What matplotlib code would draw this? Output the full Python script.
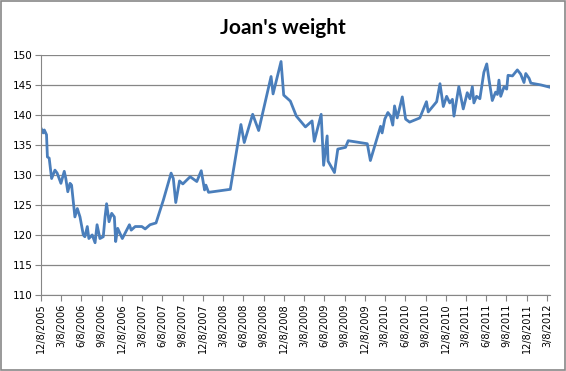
import pandas as pd
import matplotlib.pyplot as plt
from matplotlib.patches import Rectangle

# weigh-in dates and weights
dates = [
    "2005-12-08", "2005-12-18", "2005-12-23", "2006-01-02", "2006-01-06", "2006-01-14",
    "2006-01-25", "2006-02-09", "2006-02-19", "2006-03-08", "2006-03-23", "2006-03-30",
    "2006-04-08", "2006-04-18", "2006-04-25", "2006-05-10", "2006-05-21", "2006-06-02",
    "2006-06-17", "2006-06-24", "2006-07-05", "2006-07-12", "2006-07-27", "2006-08-09",
    "2006-08-18", "2006-08-31", "2006-09-15", "2006-09-23", "2006-09-30", "2006-10-11",
    "2006-10-23", "2006-11-04", "2006-11-10", "2006-11-19", "2006-12-10", "2007-01-11",
    "2007-01-19", "2007-02-06", "2007-03-08", "2007-03-23", "2007-04-14", "2007-05-11",
    "2007-06-13", "2007-07-18", "2007-07-28", "2007-08-08", "2007-08-25", "2007-09-09",
    "2007-10-12", "2007-11-11", "2007-12-01", "2007-12-16", "2007-12-22", "2008-01-03",
    "2008-04-10", "2008-05-28", "2008-06-12", "2008-07-20", "2008-08-16", "2008-10-11",
    "2008-10-20", "2008-11-25", "2008-12-07", "2009-01-06", "2009-02-02", "2009-03-15",
    "2009-04-14", "2009-04-24", "2009-05-25", "2009-06-05", "2009-06-21", "2009-06-25",
    "2009-07-24", "2009-08-08", "2009-09-12", "2009-09-24", "2009-12-19", "2010-01-02",
    "2010-02-17", "2010-02-24", "2010-03-08", "2010-03-22", "2010-04-03", "2010-04-13",
    "2010-04-21", "2010-05-03", "2010-05-26", "2010-06-10", "2010-06-28", "2010-08-13",
    "2010-09-12", "2010-09-20", "2010-10-28", "2010-11-12", "2010-11-27", "2010-12-12",
    "2010-12-26", "2011-01-07", "2011-01-14", "2011-02-05", "2011-02-25", "2011-03-15",
    "2011-03-27", "2011-04-07", "2011-04-14", "2011-04-26", "2011-05-11", "2011-05-29",
    "2011-06-11", "2011-06-21", "2011-07-06", "2011-07-21", "2011-07-29", "2011-08-05",
    "2011-08-13", "2011-08-28", "2011-09-09", "2011-09-15", "2011-10-05", "2011-10-27",
    "2011-11-11", "2011-11-26", "2011-12-04", "2011-12-19", "2011-12-27", "2012-02-10",
    "2012-03-23",
]
weights = [
    137.8, 137.0, 137.5, 136.7, 133.0, 132.8,
    129.4, 130.8, 130.3, 128.6, 130.6, 129.4,
    127.2, 128.6, 128.3, 123.0, 124.4, 123.0,
    120.0, 119.7, 121.4, 119.4, 120.0, 118.7,
    121.7, 119.4, 119.7, 123.0, 125.2, 122.2,
    123.6, 123.0, 118.9, 121.1, 119.4, 121.7,
    120.8, 121.4, 121.4, 121.0, 121.7, 122.0,
    125.8, 130.3, 129.4, 125.4, 129.0, 128.5,
    129.7, 128.9, 130.7, 127.5, 128.3, 127.1,
    127.6, 138.4, 135.4, 140.1, 137.4, 146.4,
    143.5, 148.9, 143.3, 142.3, 139.8, 138.0,
    139.0, 135.6, 140.1, 131.6, 136.5, 132.3,
    130.4, 134.3, 134.6, 135.7, 135.2, 132.4,
    138.1, 137.0, 139.3, 140.4, 139.8, 138.3,
    141.5, 139.5, 143.0, 139.3, 138.8, 139.5,
    142.2, 140.5, 142.2, 145.2, 141.4, 143.1,
    142.0, 142.6, 139.8, 144.7, 141.0, 143.7,
    142.7, 144.7, 142.0, 143.1, 142.7, 147.1,
    148.5, 145.9, 142.4, 143.8, 143.4, 145.8,
    143.1, 144.7, 144.3, 146.6, 146.5, 147.5,
    146.8, 145.4, 146.9, 146.1, 145.3, 145.0,
    144.6,
]
tick_dates = pd.date_range("2005-12-08", "2012-03-08", freq=pd.DateOffset(months=3))
y_ticks = [110, 115, 120, 125, 130, 135, 140, 145, 150]

d = pd.to_datetime(dates)
grid_col = "#868686"

fig = plt.figure(figsize=(5.66, 3.71), dpi=100)
ax = fig.add_axes([0.0724, 0.205, 0.8996, 0.647])

ax.plot(d, weights, color="#4A7EBB", lw=2.0, solid_joinstyle="round")

ax.set_ylim(110, 150)
ax.set_yticks(y_ticks)
ax.set_xlim(d[0], d[-1])
ax.set_xticks(tick_dates)
ax.set_xticklabels([f"{t.month}/{t.day}/{t.year}" for t in tick_dates], rotation=90, fontsize=7)
ax.tick_params(axis="y", labelsize=7.5, length=4, color=grid_col, pad=2)
ax.tick_params(axis="x", length=4, color=grid_col, pad=2)
ax.yaxis.grid(True, color=grid_col, lw=0.9)
ax.set_axisbelow(True)
for s in ["top", "right"]:
    ax.spines[s].set_visible(False)
for s in ["left", "bottom"]:
    ax.spines[s].set_color(grid_col)

fig.text(0.5, 0.925, "Joan's weight", ha="center", va="center",
         fontsize=15, fontweight="bold", family=["Lato", "DejaVu Sans"])

# chart border like the Excel frame
fig.patches.append(Rectangle((0.001, 0.002), 0.997, 0.996, transform=fig.transFigure,
                             fill=False, edgecolor="#878787", lw=1.2))

fig.savefig("out.png", dpi=100)
